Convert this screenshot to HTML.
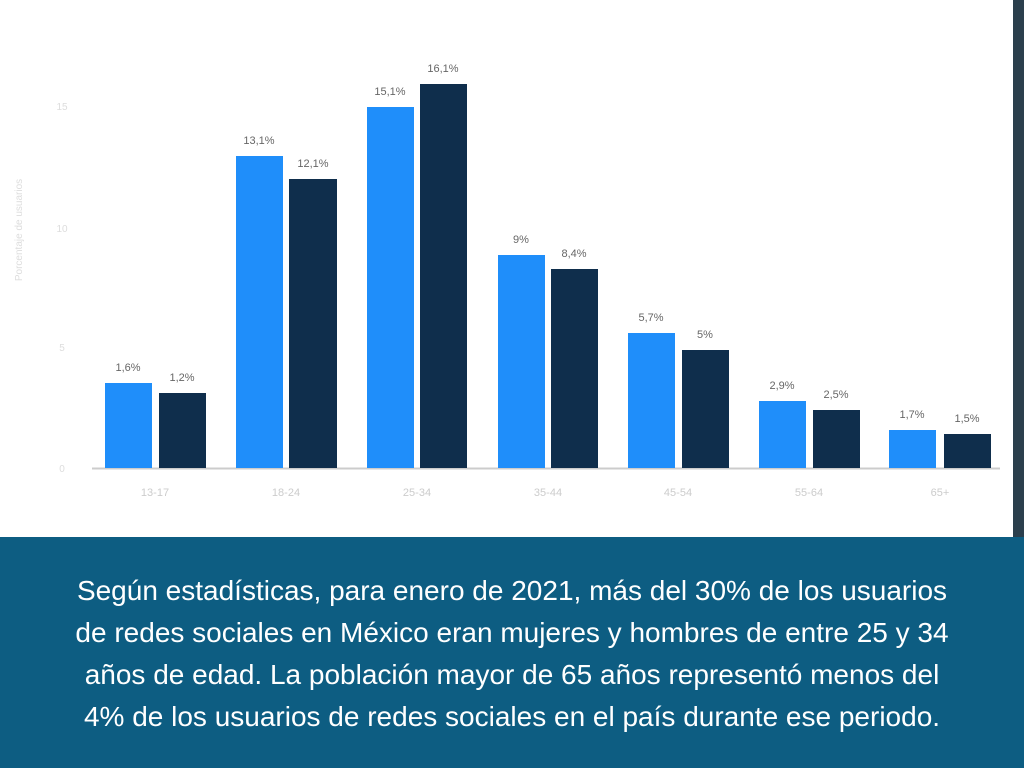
<!DOCTYPE html>
<html><head><meta charset="utf-8"><style>
body{margin:0;width:1024px;height:768px;overflow:hidden;background:#fff;position:relative;font-family:"Liberation Sans",sans-serif}
.bot{position:absolute;left:0;top:537px;width:1024px;height:231px;background:#0d5d82;color:#fff;text-align:center;font-size:28px;line-height:42px;padding-top:33px;box-sizing:border-box;white-space:nowrap}
</style></head><body>
<svg width="1024" height="537" style="position:absolute;left:0;top:0" font-family="Liberation Sans, sans-serif">
<rect x="1013" y="0" width="11" height="537" fill="#2b3f4d"/>
<g fill="#ddd" font-size="10" text-anchor="middle">
<text x="62" y="110">15</text><text x="62" y="232">10</text><text x="62" y="351">5</text><text x="62" y="472">0</text>
<text x="22" y="230" transform="rotate(-90 22 230)">Porcentaje de usuarios</text>
</g>
<line x1="92" y1="468.5" x2="1000" y2="468.5" stroke="#ccc" stroke-width="2"/>
<g fill="#1f8efa">
<rect x="105" y="383" width="47" height="85"/><rect x="236" y="156" width="47" height="312"/><rect x="367" y="107" width="47" height="361"/><rect x="498" y="255" width="47" height="213"/><rect x="628" y="333" width="47" height="135"/><rect x="759" y="401" width="47" height="67"/><rect x="889" y="430" width="47" height="38"/>
</g>
<g fill="#0f2e4c">
<rect x="159" y="393" width="47" height="75"/><rect x="289" y="179" width="48" height="289"/><rect x="420" y="84" width="47" height="384"/><rect x="551" y="269" width="47" height="199"/><rect x="682" y="350" width="47" height="118"/><rect x="813" y="410" width="47" height="58"/><rect x="944" y="434" width="47" height="34"/>
</g>
<g fill="#666" font-size="11" text-anchor="middle">
<text x="128" y="371">1,6%</text><text x="182" y="381">1,2%</text>
<text x="259" y="144">13,1%</text><text x="313" y="167">12,1%</text>
<text x="390" y="95">15,1%</text><text x="443" y="72">16,1%</text>
<text x="521" y="243">9%</text><text x="574" y="257">8,4%</text>
<text x="651" y="321">5,7%</text><text x="705" y="338">5%</text>
<text x="782" y="389">2,9%</text><text x="836" y="398">2,5%</text>
<text x="912" y="418">1,7%</text><text x="967" y="422">1,5%</text>
</g>
<g fill="#ccc" font-size="11" text-anchor="middle">
<text x="155" y="496">13-17</text><text x="286" y="496">18-24</text><text x="417" y="496">25-34</text><text x="548" y="496">35-44</text><text x="678" y="496">45-54</text><text x="809" y="496">55-64</text><text x="940" y="496">65+</text>
</g>
</svg>
<div class="bot">Según estadísticas, para enero de 2021, más del 30% de los usuarios<br>de redes sociales en México eran mujeres y hombres de entre 25 y 34<br>años de edad. La población mayor de 65 años representó menos del<br>4% de los usuarios de redes sociales en el país durante ese periodo.</div>
</body></html>
